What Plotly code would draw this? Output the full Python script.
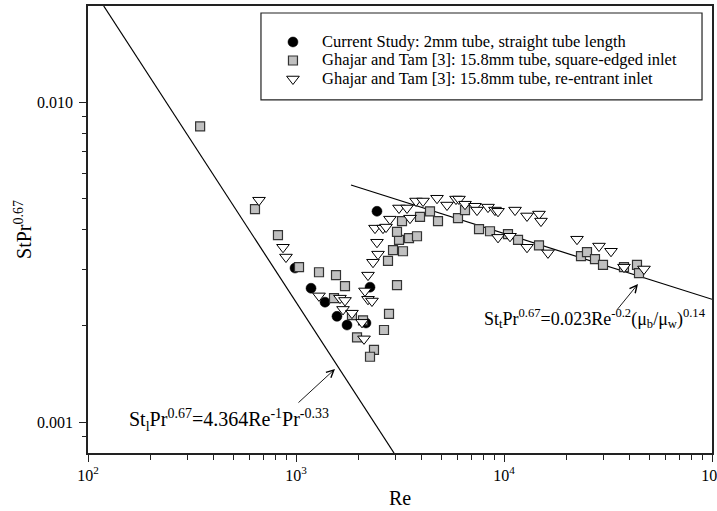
import plotly.graph_objects as go

# ---------------- data ----------------
cs_re = [989, 1181, 1379, 1574, 1759, 2170, 2269, 2451]
cs_st = [0.00303, 0.00262, 0.00237, 0.00214, 0.00201, 0.00204, 0.00264, 0.00456]

sq_re = [346, 635, 819, 1034, 1290, 1557, 1720, 1523, 1858, 2100,
         1965, 2371, 2269, 2649, 2800, 3059, 2769, 2927, 3268, 3128,
         3059, 3494, 3817, 3233, 3947, 4408, 4816, 6009, 6494, 7584,
         8564, 10450, 11680, 14730, 23450, 25060, 27380, 29920, 37750, 43590,
         44570]
sq_st = [0.00841, 0.00463, 0.00384, 0.00305, 0.00294, 0.00288, 0.00266, 0.00244, 0.00216, 0.00208,
         0.00184, 0.00168, 0.00160, 0.00194, 0.00218, 0.00268, 0.00319, 0.00345, 0.00342, 0.00371,
         0.00393, 0.00376, 0.00381, 0.00425, 0.00438, 0.00456, 0.00425, 0.00434, 0.00460, 0.00401,
         0.00395, 0.00387, 0.00371, 0.00357, 0.00330, 0.00340, 0.00323, 0.00310, 0.00305, 0.00310,
         0.00292]

tri_re = [664, 866, 895, 1290, 1627, 1720, 1683, 1858, 2077, 2123,
          2146, 2219, 2319, 2219, 2345, 2479, 2451, 2398, 2620, 2709,
          2830, 3128, 3418, 3533, 3776, 4080, 4764, 5321, 5878, 6076,
          6494, 7254, 7418, 8378, 9051, 9358, 11300, 12900, 14730, 15060,
          9358, 10690, 12900, 16270, 22440, 28620, 32690, 37750, 47100]
tri_st = [0.00494, 0.00352, 0.00328, 0.00248, 0.00244, 0.00240, 0.00225, 0.00219, 0.00205, 0.00182,
          0.00257, 0.00242, 0.00239, 0.00288, 0.00316, 0.00335, 0.00365, 0.00404, 0.00404, 0.00407,
          0.00431, 0.00467, 0.00467, 0.00434, 0.00491, 0.00491, 0.00501, 0.00477, 0.00498, 0.00498,
          0.00480, 0.00473, 0.00460, 0.00470, 0.00460, 0.00456, 0.00460, 0.00441, 0.00447, 0.00425,
          0.00378, 0.00381, 0.00352, 0.00338, 0.00373, 0.00355, 0.00342, 0.00305, 0.00301]

# correlation lines (end points)
lam_re = [119, 2960]
lam_st = [0.0200, 0.00080]
turb_re = [1838, 100000]
turb_st = [0.00551, 0.00242]

x_tickvals = [100, 1000, 10000, 100000]
x_ticktext = ["10<sup>2</sup>", "10<sup>3</sup>", "10<sup>4</sup>", "10<sup>5</sup>"]
x_minor = [m * d for d in (100, 1000, 10000) for m in range(2, 10)]
y_tickvals = [0.001, 0.01]
y_ticktext = ["0.001", "0.010"]
y_minor = [0.0009] + [m * 0.001 for m in range(2, 10)]

names = ["Current Study: 2mm tube, straight tube length",
         "Ghajar and Tam [3]: 15.8mm tube, square-edged inlet",
         "Ghajar and Tam [3]: 15.8mm tube, re-entrant inlet"]

FONT = "Liberation Serif, Times New Roman, serif"


def legend_label(s):
    return '<span style="font-size:16.5px">' + s + '</span>'


fig = go.Figure()
fig.add_trace(go.Scatter(x=lam_re, y=lam_st, mode="lines",
                         line=dict(color="black", width=1.2), showlegend=False, hoverinfo="skip"))
fig.add_trace(go.Scatter(x=turb_re, y=turb_st, mode="lines",
                         line=dict(color="black", width=1.2), showlegend=False, hoverinfo="skip"))
fig.add_trace(go.Scatter(x=cs_re, y=cs_st, mode="markers", name=legend_label(names[0]),
                         legend="legend",
                         marker=dict(symbol="circle", size=10, color="black",
                                     line=dict(color="black", width=0.5))))
fig.add_trace(go.Scatter(x=sq_re, y=sq_st, mode="markers", name=legend_label(names[1]),
                         legend="legend2",
                         marker=dict(symbol="square", size=9, color="#c0c0c0",
                                     line=dict(color="#333333", width=1.2))))
fig.add_trace(go.Scatter(x=tri_re, y=tri_st, mode="markers", name=legend_label(names[2]),
                         legend="legend3",
                         marker=dict(symbol="triangle-down", size=11, color="white",
                                     line=dict(color="black", width=1))))

axis_common = dict(showline=True, mirror=True, linecolor="#222222", linewidth=1.5,
                   showgrid=False, zeroline=False, ticks="outside", ticklen=7,
                   tickcolor="#222222", tickwidth=1, automargin=False,
                   ticklabeloverflow="allow",
                   tickfont=dict(family=FONT, size=16, color="black"))

fig.update_xaxes(type="log", range=[2, 5], tickmode="array",
                 tickvals=x_tickvals, ticktext=x_ticktext,
                 minor=dict(tickmode="array", tickvals=x_minor, ticks="outside",
                            ticklen=5, tickcolor="#222222", showgrid=False),
                 title=dict(text="Re", font=dict(family=FONT, size=20, color="black"), standoff=8),
                 **axis_common)
fig.update_yaxes(type="log", range=[-3.09691, -1.69897], tickmode="array",
                 tickvals=y_tickvals, ticktext=y_ticktext, ticklabelstandoff=3,
                 minor=dict(tickmode="array", tickvals=y_minor, ticks="outside",
                            ticklen=4, tickcolor="#222222", showgrid=False),
                 title=dict(text="StPr<sup>0.67</sup>", font=dict(family=FONT, size=20, color="black"),
                            standoff=0),
                 **axis_common)

# legend box
fig.add_shape(type="rect", xref="paper", yref="paper",
              x0=0.2772, x1=0.984, y0=0.79, y1=0.9843,
              line=dict(color="#222222", width=1.2), fillcolor="rgba(0,0,0,0)", layer="below")

annotations = [
    dict(xref="paper", yref="paper", x=0.0625, y=0.074, xanchor="left", yanchor="middle",
         text="St<sub>l</sub>Pr<sup>0.67</sup>=4.364Re<sup>-1</sup>Pr<sup>-0.33</sup>",
         showarrow=False, font=dict(family=FONT, size=20, color="black")),
    dict(xref="paper", yref="paper", x=0.3958, y=0.188, text="", showarrow=True,
         ax=-38, ay=35, arrowhead=5, arrowsize=1.6, arrowwidth=0.9, arrowcolor="black"),
    dict(xref="paper", yref="paper", x=0.632, y=0.302, xanchor="left", yanchor="middle",
         text="St<sub>t</sub>Pr<sup>0.67</sup>=0.023Re<sup>-0.2</sup>(\u03bc<sub>b</sub>/\u03bc<sub>w</sub>)<sup>0.14</sup>",
         showarrow=False, font=dict(family=FONT, size=18, color="black")),
    dict(xref="paper", yref="paper", x=0.8814, y=0.378, text="", showarrow=True,
         ax=-22, ay=27, arrowhead=5, arrowsize=1.6, arrowwidth=0.9, arrowcolor="black"),
]

leg_common = dict(x=0.282, xanchor="left", yanchor="middle",
                  bgcolor="rgba(0,0,0,0)", borderwidth=0, itemwidth=48,
                  font=dict(family=FONT, size=12, color="black"))

fig.update_layout(
    width=717, height=511,
    margin=dict(l=88, r=5, t=6, b=58, autoexpand=False),
    paper_bgcolor="white", plot_bgcolor="white",
    font=dict(family=FONT, color="black"),
    annotations=annotations,
    legend=dict(y=0.9195, **leg_common),
    legend2=dict(y=0.8781, **leg_common),
    legend3=dict(y=0.8367, **leg_common),
    showlegend=True,
)

fig.write_html("out.html", config={"displayModeBar": False},
               post_script="document.body.style.margin='0';document.body.style.padding='0';")
